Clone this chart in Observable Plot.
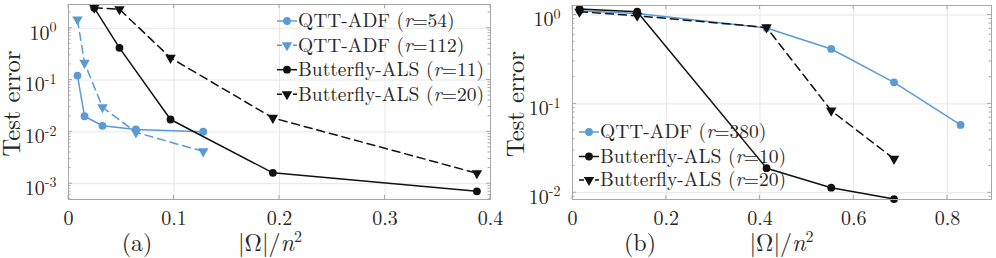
<!DOCTYPE html>
<html><head><meta charset="utf-8">
<script src="https://cdn.jsdelivr.net/npm/d3@7"></script>
<script src="https://cdn.jsdelivr.net/npm/@observablehq/plot@0.6"></script>
<style>
html,body{margin:0;padding:0;background:#fff;}
#root{position:relative;width:996px;height:258px;overflow:hidden;}
#root svg{position:absolute;top:0;overflow:visible;max-width:none;}
#root svg, #root svg text, #root svg tspan{font-family:"Latin Modern Roman","Liberation Serif",serif !important;}
</style></head><body><div id="root"></div>
<script>
// ---------- data: panel (a) ----------
const xA_qtt   = [0.0085, 0.0152, 0.0322, 0.0639, 0.1277];
const yA_qtt54 = [0.122, 0.020, 0.0131, 0.0111, 0.0101];
const yA_qtt112= [1.47, 0.215, 0.0299, 0.0098, 0.0042];
const xA_bf    = [0.0244, 0.0483, 0.0967, 0.1937, 0.3871];
const yA_bf11  = [2.48, 0.418, 0.0173, 0.00162, 0.000713];
const yA_bf20  = [2.48, 2.33, 0.268, 0.0186, 0.00159];
const xTicksA  = [0, 0.1, 0.2, 0.3, 0.4];
const yTicksA  = [1e-3, 1e-2, 1e-1, 1];
// ---------- data: panel (b) ----------
const xB_qtt   = [0.015, 0.138, 0.414, 0.552, 0.686, 0.828];
const yB_qtt380= [1.12, 1.04, 0.714, 0.415, 0.175, 0.058];
const xB_bf    = [0.015, 0.138, 0.414, 0.552, 0.686];
const yB_bf10  = [1.17, 1.09, 0.0189, 0.0114, 0.0085];
const yB_bf20  = [1.09, 0.98, 0.726, 0.084, 0.0241];
const xTicksB  = [0, 0.2, 0.4, 0.6, 0.8];
const yTicksB  = [1e-2, 1e-1, 1];

const BLUE = "#5b9bd5", BLACK = "#111111";
const GRID = "#e6e6e6", AXIS = "#a8a8a8", TEXT = "#262626";

const seriesA = [
  {name:"QTT-ADF", r:"54",  x:xA_qtt, y:yA_qtt54,  color:BLUE,  dash:false, sym:"circle"},
  {name:"QTT-ADF", r:"112", x:xA_qtt, y:yA_qtt112, color:BLUE,  dash:true,  sym:"triangle"},
  {name:"Butterfly-ALS", r:"11", x:xA_bf, y:yA_bf11, color:BLACK, dash:false, sym:"circle"},
  {name:"Butterfly-ALS", r:"20", x:xA_bf, y:yA_bf20, color:BLACK, dash:true,  sym:"triangle"}
];
const seriesB = [
  {name:"QTT-ADF", r:"380", x:xB_qtt, y:yB_qtt380, color:BLUE, dash:false, sym:"circle"},
  {name:"Butterfly-ALS", r:"10", x:xB_bf, y:yB_bf10, color:BLACK, dash:false, sym:"circle"},
  {name:"Butterfly-ALS", r:"20", x:xB_bf, y:yB_bf20, color:BLACK, dash:true, sym:"triangle"}
];

const DASH = "8,5";

function makePanel(cfg) {
  const marks = [
    Plot.gridX({ticks: cfg.xTicks, stroke: GRID, strokeOpacity: 1}),
    Plot.gridY({ticks: cfg.yTicks, stroke: GRID, strokeOpacity: 1})
  ];
  for (const s of cfg.series) {
    const data = s.x.map((x, i) => ({x, y: s.y[i]}));
    marks.push(Plot.line(data, {x: "x", y: "y", stroke: s.color, strokeWidth: 1.5,
      strokeDasharray: s.dash ? DASH : undefined}));
    marks.push(Plot.dot(data, {x: "x", y: "y", fill: s.color, stroke: "none", r: 3.9,
      symbol: s.sym, rotate: s.sym === "triangle" ? 180 : 0}));
  }
  marks.push(Plot.frame({stroke: AXIS, strokeWidth: 1}));
  marks.push(Plot.axisX({ticks: cfg.xTicks, tickSize: 0, tickPadding: 11, fontSize: 20,
    tickFormat: d => String(d), label: null}));
  marks.push(Plot.axisY({ticks: cfg.yTicks, tickSize: 0, tickPadding: 12, fontSize: 20,
    tickFormat: d => String(Math.round(Math.log10(d))), label: null}));

  const chart = Plot.plot({
    width: cfg.width, height: 258,
    marginLeft: cfg.mL, marginRight: cfg.mR, marginTop: cfg.mT, marginBottom: cfg.mB,
    x: {domain: cfg.xDomain},
    y: {type: "log", domain: cfg.yDomain},
    style: {color: TEXT, background: "transparent", overflow: "visible"},
    marks
  });
  chart.style.left = cfg.left + "px";
  document.getElementById("root").appendChild(chart);

  const svg = d3.select(chart);
  const sx = chart.scale("x"), sy = chart.scale("y");
  const L = cfg.mL, R = cfg.width - cfg.mR, T = cfg.mT, B = 258 - cfg.mB;

  // superscript exponents on log tick labels
  svg.selectAll('g[aria-label="y-axis tick label"] text').each(function() {
    const t = d3.select(this);
    const e = t.text();
    t.text("");
    t.attr("transform", (t.attr("transform") || "") + " translate(0,5)");
    t.append("tspan").text("10");
    t.append("tspan").attr("font-size", "14px").attr("dy", "-0.55em").text(e);
  });

  // inward ticks (major + minor), box style
  const tk = svg.append("g").attr("stroke", AXIS).attr("stroke-width", 1);
  for (const v of cfg.xTicks) {
    const px = sx.apply(v);
    tk.append("line").attr("x1", px).attr("x2", px).attr("y1", B).attr("y2", B - 4);
    tk.append("line").attr("x1", px).attr("x2", px).attr("y1", T).attr("y2", T + 4);
  }
  const [y0, y1] = cfg.yDomain;
  for (let k = Math.floor(Math.log10(y0)); k <= Math.ceil(Math.log10(y1)); k++) {
    for (let m = 1; m <= 9; m++) {
      const v = m * Math.pow(10, k);
      if (v < y0 || v > y1) continue;
      const py = sy.apply(v);
      const len = m === 1 ? 4 : 2.5;
      tk.append("line").attr("x1", L).attr("x2", L + len).attr("y1", py).attr("y2", py);
      tk.append("line").attr("x1", R).attr("x2", R - len).attr("y1", py).attr("y2", py);
    }
  }

  // y axis title
  svg.append("text")
    .attr("transform", `translate(${L - 48},${(T + B) / 2 + 2}) rotate(-90)`)
    .attr("text-anchor", "middle").attr("font-size", 24.5).attr("fill", TEXT)
    .text("Test error");

  // x axis title |Ω|/n²
  const xt = svg.append("text")
    .attr("x", (L + R) / 2 + cfg.xLabelDx).attr("y", 251)
    .attr("text-anchor", "middle").attr("font-size", 24).attr("fill", TEXT);
  xt.append("tspan").text("|Ω|/");
  xt.append("tspan").attr("font-style", "italic").text("n");
  xt.append("tspan").attr("font-size", "16px").attr("dy", "-9").text("2");

  // panel tag
  svg.append("text")
    .attr("x", cfg.tagX).attr("y", 251)
    .attr("text-anchor", "middle").attr("font-size", 24).attr("fill", TEXT)
    .text(cfg.tag);

  // legend
  const lg = svg.append("g").attr("font-size", 19.5)
    .attr("fill", TEXT).attr("text-anchor", "start");
  cfg.series.forEach((s, i) => {
    const y = cfg.legY[i];
    const x0 = cfg.legX;
    lg.append("line").attr("x1", x0).attr("x2", x0 + 20).attr("y1", y).attr("y2", y)
      .attr("stroke", s.color).attr("stroke-width", 1.5)
      .attr("stroke-dasharray", s.dash ? "5,3" : null);
    const sym = s.sym === "triangle" ? d3.symbolTriangle : d3.symbolCircle;
    lg.append("path").attr("d", d3.symbol(sym, Math.PI * 3.9 * 3.9)())
      .attr("transform", `translate(${x0 + 10},${y})${s.sym === "triangle" ? " rotate(180)" : ""}`)
      .attr("fill", s.color);
    const t = lg.append("text").attr("x", x0 + 21).attr("y", y).attr("dy", "0.33em")
      .attr("text-anchor", "start");
    t.append("tspan").text(s.name + " (");
    t.append("tspan").attr("font-style", "italic").text("r");
    t.append("tspan").text("=" + s.r + ")");
  });
}

makePanel({
  series: seriesA, width: 500, left: 0, mL: 68, mR: 10, mT: 4, mB: 59,
  xDomain: [0, 0.4], yDomain: [4.95e-4, 2.87],
  xTicks: xTicksA, yTicks: yTicksA, xLabelDx: -9, tag: "(a)", tagX: 137,
  legX: 277, legY: [21, 45.3, 69.7, 94.3]
});
makePanel({
  series: seriesB, width: 496, left: 500, mL: 72, mR: 5, mT: 5, mB: 59,
  xDomain: [0, 0.894], yDomain: [0.0084, 1.28],
  xTicks: xTicksB, yTicks: yTicksB, xLabelDx: 0, tag: "(b)", tagX: 140,
  legX: 79, legY: [132, 156.5, 180]
});
</script>
</body></html>
